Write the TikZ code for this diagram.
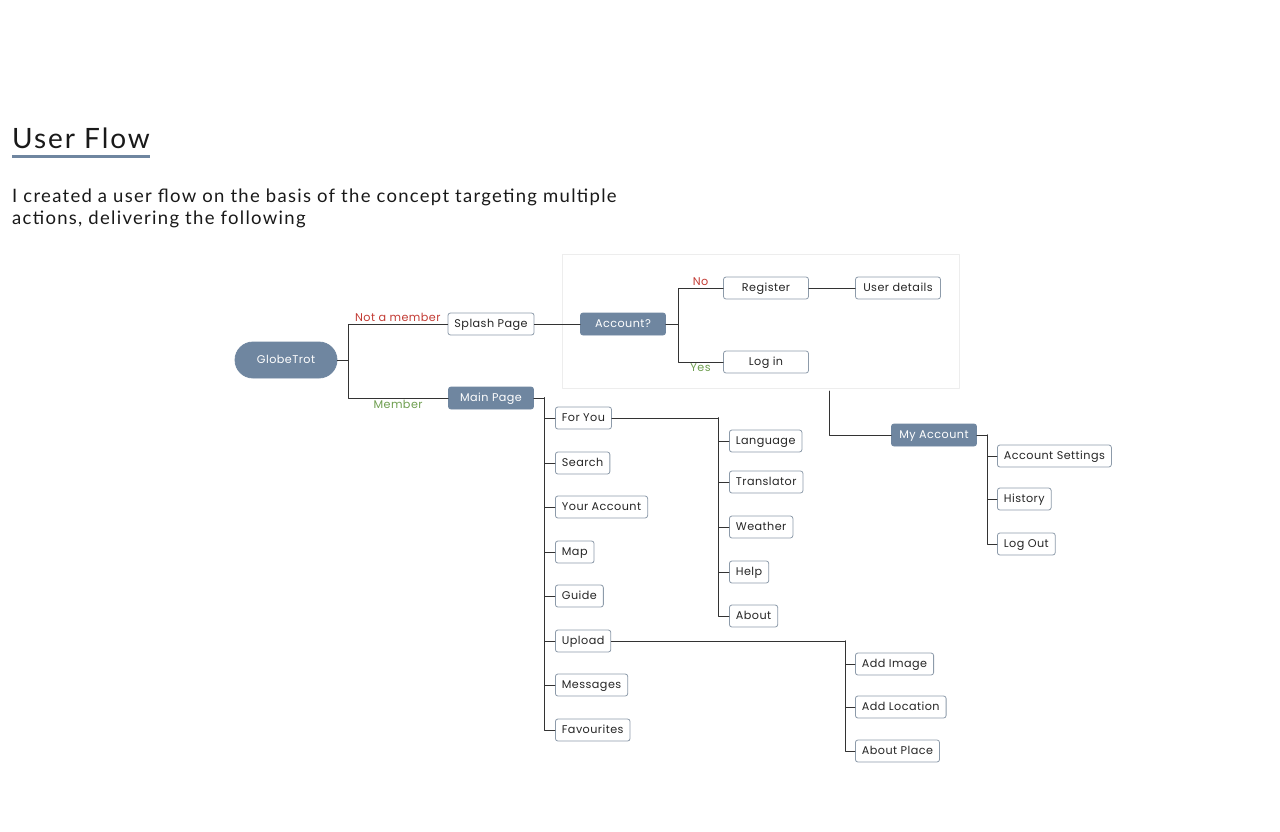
\documentclass[tikz,border=0pt]{standalone}
\usepackage{fontspec}
\setmainfont{Lato}[LetterSpace=7]
\newfontfamily\flowfont{Poppins}[LetterSpace=4]
\usetikzlibrary{positioning}
\definecolor{slate}{HTML}{6F86A0}
\definecolor{boxline}{HTML}{8D9BAA}
\definecolor{nored}{HTML}{C23B34}
\definecolor{yesgreen}{HTML}{6E9E4F}
\tikzset{
  every picture/.style={line join=round, line cap=round},
  page/.style={draw=boxline, rounded corners=2.5pt, fill=white, inner xsep=6.5pt, inner ysep=0pt,
    minimum height=22pt, text height=7.6pt, text depth=1.6pt, text=black!85, line width=0.8pt,
    font=\flowfont\fontsize{11.2}{13}\selectfont},
  key/.style={page, fill=slate, draw=slate, text=white},
  wide/.style={minimum width=85pt},
  link/.style={draw=black!80, line width=0.9pt},
  tag/.style={font=\flowfont\fontsize{11.2}{13}\selectfont, inner sep=1.5pt},
}

\begin{document}
\begin{tikzpicture}[x=1pt,y=-1pt]
\useasboundingbox (0,0) rectangle (1280,831);
% heading
\node[anchor=base west, inner sep=0pt, text=black!90, font=\fontsize{28}{32}\selectfont] (title) at (12,148) {User Flow};
\draw[slate, line width=3pt, line cap=butt] ([yshift=-8pt]title.south west) -- ([yshift=-8pt]title.south east);
\node[anchor=base west, inner sep=0pt, text=black!90, font=\fontsize{18.5}{22}\selectfont] (intro1) at (12,202)
  {I created a user flow on the basis of the concept targeting multiple};
\node[anchor=base west, inner sep=0pt, text=black!90, font=\fontsize{18.5}{22}\selectfont] (intro2) at (12,224)
  {actions, delivering the following};

% account frame
\draw[black!7, line width=0.8pt] (562,254) rectangle (959,388);

\node[key, rounded corners=18pt, minimum width=102pt, minimum height=36pt] (globe) at (286,360) {GlobeTrot};
\node[page, wide] (splash) at (491,324) {Splash Page};
\node[key, wide] (main) at (491,398) {Main Page};
\node[key, wide] (ask) at (623,324) {Account?};
\node[page, wide] (register) at (766,288) {Register};
\node[page, wide] (details) at (898,288) {User details};
\node[page, wide] (login) at (766,362) {Log in};
\node[key, wide] (myacc) at (934,435) {My Account};

\node[page, anchor=west] (settings) at (997,456) {Account Settings};
\node[page, anchor=west] (history) at (997,499) {History};
\node[page, anchor=west] (logout) at (997,544) {Log Out};

\node[page, anchor=west] (foryou) at (555,418) {For You};
\node[page, anchor=west] (search) at (555,463) {Search};
\node[page, anchor=west] (youracc) at (555,507) {Your Account};
\node[page, anchor=west] (map) at (555,552) {Map};
\node[page, anchor=west] (guide) at (555,596) {Guide};
\node[page, anchor=west] (upload) at (555,641) {Upload};
\node[page, anchor=west] (messages) at (555,685) {Messages};
\node[page, anchor=west] (favs) at (555,730) {Favourites};

\node[page, anchor=west] (language) at (729,441) {Language};
\node[page, anchor=west] (translator) at (729,482) {Translator};
\node[page, anchor=west] (weather) at (729,527) {Weather};
\node[page, anchor=west] (help) at (729,572) {Help};
\node[page, anchor=west] (about) at (729,616) {About};

\node[page, anchor=west] (addimage) at (855,664) {Add Image};
\node[page, anchor=west] (addloc) at (855,707) {Add Location};
\node[page, anchor=west] (aboutplace) at (855,751) {About Place};

% branch points
\coordinate (gtjoin) at (348,360);
\coordinate (askjoin) at (678,324);
\coordinate (mpjoin) at (544,398);
\coordinate (fyjoin) at (718,418);
\coordinate (upjoin) at (845,641);
\coordinate (myjoin) at (987,435);
\coordinate (framefoot) at (829,391);

\draw[link] (globe.east) -- (gtjoin) |- node[tag, pos=0.75, above, text=nored]{Not a member} (splash.west);
\draw[link] (gtjoin) |- node[tag, pos=0.75, below, text=yesgreen]{Member} (main.west);
\draw[link] (splash) -- (ask);
\draw[link] (ask.east) -- (askjoin) |- node[tag, pos=0.75, above, text=nored]{No} (register.west);
\draw[link] (askjoin) |- node[tag, pos=0.75, below, text=yesgreen]{Yes} (login.west);
\draw[link] (register) -- (details);
\draw[link] (framefoot) |- (myacc.west);
\draw[link] (myacc.east) -- (myjoin);
\foreach \n in {settings,history,logout}
  \draw[link] (myjoin) |- (\n.west);
\draw[link] (main.east) -- (mpjoin);
\foreach \n in {foryou,search,youracc,map,guide,upload,messages,favs}
  \draw[link] (mpjoin) |- (\n.west);
\draw[link] (foryou.east) -- (fyjoin);
\foreach \n in {language,translator,weather,help,about}
  \draw[link] (fyjoin) |- (\n.west);
\draw[link] (upload.east) -- (upjoin);
\foreach \n in {addimage,addloc,aboutplace}
  \draw[link] (upjoin) |- (\n.west);
\end{tikzpicture}
\end{document}
